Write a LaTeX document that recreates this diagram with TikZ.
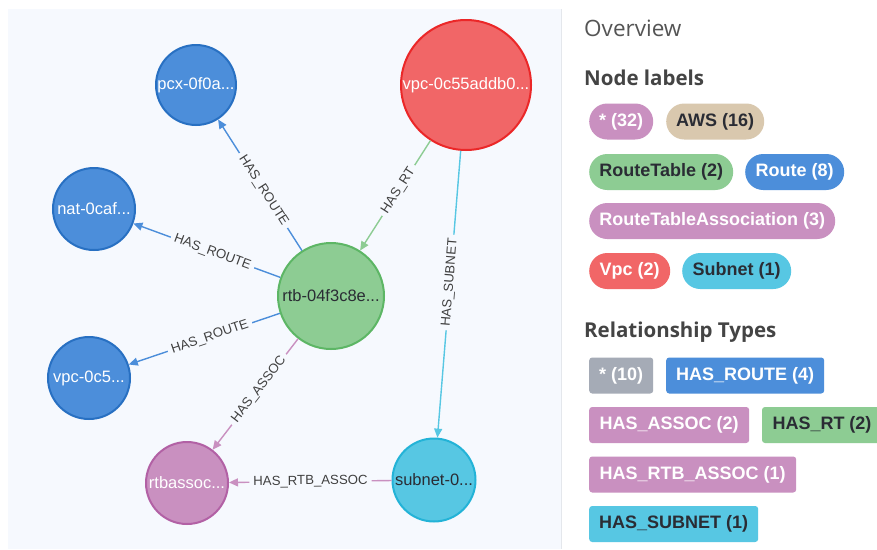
\documentclass[tikz,border=0pt]{standalone}
\usepackage{fontspec}
\setmainfont{Liberation Sans}
\newfontfamily\headfont{Open Sans}
\usetikzlibrary{arrows.meta,calc}

\definecolor{panelbg}{HTML}{F6F9FE}
\definecolor{sepline}{HTML}{E4E7EC}
\definecolor{blueF}{HTML}{4C8EDA}
\definecolor{blueB}{HTML}{2870C2}
\definecolor{redF}{HTML}{F16667}
\definecolor{redB}{HTML}{EB2728}
\definecolor{greenF}{HTML}{8DCC93}
\definecolor{greenB}{HTML}{5DB665}
\definecolor{pinkF}{HTML}{C990C0}
\definecolor{pinkB}{HTML}{B261A5}
\definecolor{cyanF}{HTML}{57C7E3}
\definecolor{cyanB}{HTML}{23B3D7}
\definecolor{tanF}{HTML}{D9C8AE}
\definecolor{greyF}{HTML}{A5ABB6}
\definecolor{darktext}{HTML}{2A2C34}
\definecolor{edgetext}{HTML}{404040}
\definecolor{headgrey}{HTML}{555555}
\definecolor{headdark}{HTML}{444444}

\tikzset{
  gnode/.style={circle, line width=2pt, inner sep=0pt,
    font=\fontsize{16.5}{18}\selectfont},
  bluenode/.style={gnode, fill=blueF, draw=blueB, text=white, minimum size=80pt},
  rel/.style={line width=1.4pt, -{Triangle[length=9pt,width=8pt]}},
  lbl/.style={fill=panelbg, inner xsep=4pt, inner ysep=1pt, sloped,
    text=edgetext, font=\fontsize{13.2}{15}\selectfont},
  pill/.style={anchor=west, rounded corners=18pt, minimum height=36pt,
    inner sep=0pt, font=\fontsize{18}{20}\selectfont\bfseries},
  tag/.style={anchor=west, rounded corners=3pt, minimum height=36pt,
    inner sep=0pt, font=\fontsize{18}{20}\selectfont\bfseries},
  heading/.style={anchor=base west, inner sep=0pt, text=headdark,
    font=\headfont\bfseries\fontsize{20.5}{24}\selectfont},
}

\begin{document}
\begin{tikzpicture}[x=1pt,y=-1pt]
\useasboundingbox (0,0) rectangle (877,549);
\fill[white] (0,0) rectangle (877,549);

% graph canvas
\fill[panelbg] (8,9) rectangle (561,549);
\draw[sepline, line width=1.5pt] (561.5,9) -- (561.5,549);

% graph nodes
\node[bluenode] (pcx) at (196,85) {pcx-0f0a...};
\node[gnode, fill=redF, draw=redB, text=white, minimum size=130pt] (vpcA) at (466,85) {vpc-0c55addb0...};
\node[bluenode, minimum size=82pt] (nat) at (94,209) {nat-0caf...};
\node[gnode, fill=greenF, draw=greenB, text=darktext, minimum size=106pt] (rtb) at (331,296) {rtb-04f3c8e...};
\node[bluenode, minimum size=82pt] (vpcB) at (89,378) {vpc-0c5...};
\node[gnode, fill=pinkF, draw=pinkB, text=white, minimum size=82pt] (assoc) at (187,483) {rtbassoc...};
\node[gnode, fill=cyanF, draw=cyanB, text=darktext, minimum size=83pt] (subnet) at (434,480) {subnet-0...};

% relationships
\draw[rel, blueF] (rtb) -- (pcx);
\draw[rel, blueF] (rtb) -- (nat);
\draw[rel, blueF] (rtb) -- (vpcB);
\draw[rel, greenF] (vpcA) -- (rtb);
\draw[rel, cyanF] (vpcA) -- (subnet);
\draw[rel, pinkF] (rtb) -- (assoc);
\draw[rel, pinkF] (subnet) -- (assoc);

% relationship labels
\path (pcx.center) -- node[lbl] {HAS\_ROUTE} (rtb.center);
\path (nat.center) -- node[lbl] {HAS\_ROUTE} (rtb.center);
\path (vpcB.center) -- node[lbl] {HAS\_ROUTE} (rtb.center);
\path (rtb.center) -- node[lbl] {HAS\_RT} (vpcA.center);
\path (vpcA.center) -- node[lbl] {HAS\_SUBNET} (subnet.center);
\path (assoc.center) -- node[lbl] {HAS\_ASSOC} (rtb.center);
\path (assoc.center) -- node[lbl] {HAS\_RTB\_ASSOC} (subnet.center);

% overview panel
\node[anchor=base west, inner sep=0pt, text=headgrey,
  font=\headfont\fontsize{22.5}{26}\selectfont] (ovw) at (584,36) {Overview};
\node[heading] (nlh) at (584,85.5) {Node labels};
\node[heading] (rth) at (584,337.5) {Relationship Types};

% node label pills
\node[pill, fill=pinkF, text=white, minimum width=64pt] (p1) at (589,121.5) {* (32)};
\node[pill, fill=tanF, text=darktext, minimum width=98pt] (p2) at (666,121.5) {AWS (16)};
\node[pill, fill=greenF, text=darktext, minimum width=144pt] (p3) at (589,172) {RouteTable (2)};
\node[pill, fill=blueF, text=white, minimum width=99pt] (p4) at (745,172) {Route (8)};
\node[pill, fill=pinkF, text=white, minimum width=246pt] (p5) at (589,221) {RouteTableAssociation (3)};
\node[pill, fill=redF, text=white, minimum width=81pt] (p6) at (589,271) {Vpc (2)};
\node[pill, fill=cyanF, text=darktext, minimum width=109pt] (p7) at (682,271) {Subnet (1)};

% relationship type tags
\node[tag, fill=greyF, text=white, minimum width=64pt] (t1) at (589,375.5) {* (10)};
\node[tag, fill=blueF, text=white, minimum width=158pt] (t2) at (666,375.5) {HAS\_ROUTE (4)};
\node[tag, fill=pinkF, text=white, minimum width=160pt] (t3) at (589,425) {HAS\_ASSOC (2)};
\node[tag, fill=greenF, text=darktext, minimum width=120pt, anchor=center] (t4) at (822,425) {HAS\_RT (2)};
\node[tag, fill=pinkF, text=white, minimum width=207pt] (t5) at (589,474.5) {HAS\_RTB\_ASSOC (1)};
\node[tag, fill=cyanF, text=darktext, minimum width=169pt] (t6) at (589,524) {HAS\_SUBNET (1)};
\end{tikzpicture}
\end{document}
